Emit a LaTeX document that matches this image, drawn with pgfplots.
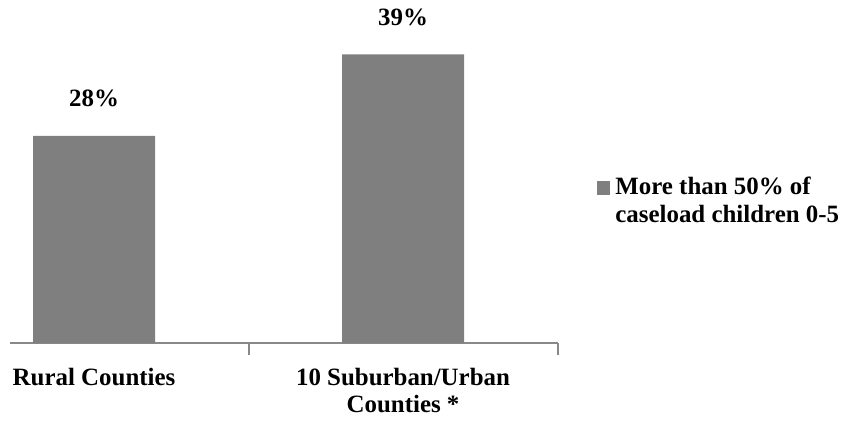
\documentclass[border=0pt]{standalone}
\usepackage{pgfplots}
\pgfplotsset{compat=1.18}
\usepackage{fontspec}
\setmainfont{Liberation Serif}
\definecolor{barcol}{HTML}{7F7F7F}
\definecolor{axcol}{HTML}{898989}
\begin{document}
\begin{tikzpicture}
\useasboundingbox (-10bp,-83bp) rectangle (837bp,343bp);
\begin{axis}[
  anchor=south west, at={(0,0)},
  x=309bp, y=7.4bp,
  xmin=-0.272, xmax=1.5, ymin=0, ymax=46,
  axis x line=bottom, axis y line=none,
  x axis line style={-, draw=axcol, line width=2bp},
  ybar, bar width=122bp, bar shift=0pt,
  /pgf/number format/assume math mode=true,
  xtick={0,1},
  xticklabels={Rural Counties,{10 Suburban/Urban\\Counties *}},
  major tick length=0pt,
  xticklabel style={align=center, font=\fontsize{25}{27}\selectfont\bfseries, yshift=-22bp},
  extra x ticks={0.5,1.5},
  extra x tick labels={},
  extra x tick style={tick align=outside, major tick length=12bp, tick style={draw=axcol, line width=2bp}},
  nodes near coords={\pgfmathprintnumber[assume math mode=true]{\pgfplotspointmeta}\%},
  every node near coord/.append style={font=\fontsize{25}{27}\selectfont\bfseries, anchor=base, yshift=29bp, text=black},
  clip=false,
  legend style={draw=none, fill=none, at={(1.066,0.42)}, anchor=west,
    font=\fontsize{25}{28}\selectfont\bfseries, cells={anchor=west, align=left},
    /tikz/every odd column/.append style={column sep=3bp}},
  legend image code/.code={\fill[barcol, draw=none] (0bp,5.5bp) rectangle (13.5bp,19bp);},
]
\addplot[fill=barcol, draw=none] coordinates {(0,28) (1,39)};
\addlegendentry{More than 50\% of\\caseload children 0-5}
\end{axis}
\end{tikzpicture}
\end{document}
